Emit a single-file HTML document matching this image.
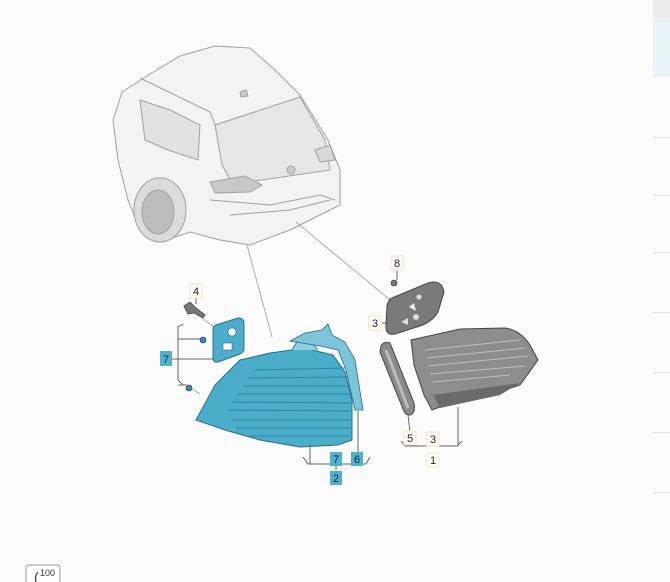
<!DOCTYPE html>
<html><head><style>
html,body{margin:0;padding:0;background:#fcfcfc;}
svg{display:block;font-family:"Liberation Sans",sans-serif;}
</style></head><body>
<svg width="670" height="582" viewBox="0 0 670 582" xmlns="http://www.w3.org/2000/svg">
<rect width="670" height="582" fill="#fcfcfc"/>
<rect x="653" y="0" width="17" height="18" fill="#ebebeb"/>
<rect x="653" y="18" width="17" height="59" fill="#e8f4f8"/>
<g stroke="#e3e3e3" stroke-width="1">
<line x1="653" y1="137.5" x2="670" y2="137.5"/><line x1="653" y1="195.5" x2="670" y2="195.5"/>
<line x1="653" y1="252.5" x2="670" y2="252.5"/><line x1="653" y1="312.5" x2="670" y2="312.5"/>
<line x1="653" y1="372.5" x2="670" y2="372.5"/><line x1="653" y1="432.5" x2="670" y2="432.5"/>
<line x1="653" y1="492.5" x2="670" y2="492.5"/>
</g>
<!-- car -->
<g stroke="#a0a0a0" stroke-width="1" fill="#f3f3f3">
<path d="M122,92 L150,74 L180,56 L215,46 L250,48 L275,70 L300,95 L328,140 L340,170 L340,205 L320,215 L290,230 L250,245 L220,240 L190,232 L160,242 L140,230 L128,200 L118,160 L113,120 Z"/>
<path d="M215,125 L300,97 L325,140 L330,170 L262,180 L232,183 L222,165 Z" fill="#e6e6e6"/>
<path d="M140,100 L170,110 L200,125 L198,160 L168,150 L145,140 Z" fill="#e2e2e2"/>
<path d="M210,182 L245,176 L262,185 L250,192 L215,193 Z" fill="#c8c8c8"/>
<path d="M315,150 L330,145 L335,160 L320,162 Z" fill="#d8d8d8"/>
<path d="M210,200 L270,205 L320,195 L335,200" fill="none"/>
<path d="M230,215 L290,210 L330,200" fill="none"/>
<path d="M140,78 L210,112 L215,125" fill="none"/>
<ellipse cx="160" cy="210" rx="26" ry="32" fill="#dcdcdc"/>
<ellipse cx="158" cy="212" rx="16" ry="22" fill="#bdbdbd"/>
<circle cx="291" cy="170" r="4" fill="#ccc"/>
<path d="M240,92 L246,90 L248,96 L241,97 Z" fill="#ccc"/>
</g>
<g stroke="#aaa" stroke-width="1" fill="none">
<line x1="247" y1="245" x2="272" y2="337"/>
<line x1="296" y1="222" x2="390" y2="300"/>
<line x1="203" y1="319" x2="213" y2="326"/>
<line x1="186" y1="384" x2="200" y2="394"/>
</g>
<path d="M184,306 L190,302 L196,308 L205,315 L203,318 L194,313 L188,314 Z" fill="#777" stroke="#444" stroke-width="0.8"/>
<path d="M216,325 L238,318 Q244,318 244,324 L244,348 Q244,352 240,354 L218,362 Q213,363 213,358 L213,330 Q213,326 216,325 Z" fill="#4daccb" stroke="#2a6f85" stroke-width="1"/>
<circle cx="232" cy="332" r="4" fill="#fff" stroke="#2a6f85" stroke-width="0.6"/>
<rect x="223" y="343" width="9" height="7" fill="#fff" stroke="#2a6f85" stroke-width="0.6"/>
<circle cx="203" cy="340" r="3" fill="#3c8aa6" stroke="#235" stroke-width="0.6"/>
<circle cx="189" cy="388" r="3" fill="#3c8aa6" stroke="#235" stroke-width="0.6"/>
<path d="M196,420 L215,385 L240,360 L270,353 L292,350 L300,343 L312,350 L333,355 L345,372 L352,400 L352,440 L338,445 L300,447 L260,440 L225,430 Z" fill="#4aadca" stroke="#2a6f85" stroke-width="1"/>
<path d="M292,350 L298,340 L312,343 L318,350" fill="#8fd0e3" stroke="#2a6f85" stroke-width="0.8"/>
<g stroke="#2a7690" stroke-width="1" opacity="0.75">
<line x1="255" y1="370" x2="345" y2="368"/><line x1="248" y1="378" x2="348" y2="377"/>
<line x1="243" y1="386" x2="350" y2="386"/><line x1="238" y1="394" x2="351" y2="394"/>
<line x1="232" y1="402" x2="351" y2="403"/><line x1="228" y1="410" x2="351" y2="411"/>
<line x1="232" y1="420" x2="352" y2="420"/><line x1="236" y1="428" x2="352" y2="428"/>
<line x1="250" y1="436" x2="350" y2="436"/>
</g>
<path d="M290,341 L305,333 L322,330 L328,324 L332,335 L345,342 L355,360 L363,410 L355,410 L346,370 L338,350 L320,346 Z" fill="#7cc4da" stroke="#2a6f85" stroke-width="0.8"/>
<path d="M392,298 L428,283 Q442,279 444,292 L438,312 Q432,322 420,326 L395,334 Q385,336 386,324 L387,306 Q388,300 392,298 Z" fill="#7a7a7a" stroke="#444" stroke-width="1"/>
<circle cx="419" cy="297" r="2.5" fill="#ddd"/><path d="M409,307 L414,303 L416,311 Z" fill="#eee"/>
<circle cx="416" cy="317" r="3" fill="#ddd"/><path d="M401,322 L408,318 L408,325 Z" fill="#ddd"/>
<circle cx="394" cy="283" r="3" fill="#777" stroke="#333" stroke-width="0.6"/>
<path d="M381,346 Q384,341 390,343 L414,403 Q416,413 410,415 Q405,415 403,409 L380,352 Z" fill="#8a8a8a" stroke="#444" stroke-width="1"/>
<path d="M386,350 L408,408" stroke="#bbb" stroke-width="3"/>
<path d="M411,340 L460,329 L505,328 Q520,330 530,345 L538,360 L520,385 L490,395 L445,405 L432,410 L424,395 L414,365 Z" fill="#8d8d8d" stroke="#444" stroke-width="1"/>
<g stroke="#c0c0c0" stroke-width="1">
<line x1="425" y1="350" x2="520" y2="340"/><line x1="427" y1="358" x2="525" y2="348"/>
<line x1="428" y1="366" x2="528" y2="356"/><line x1="430" y1="374" x2="525" y2="366"/>
<line x1="432" y1="382" x2="510" y2="375"/>
</g>
<path d="M433,395 L520,383 L500,395 L440,408 Z" fill="#6a6a6a"/>
<g stroke="#666" stroke-width="1" fill="none">
<line x1="196" y1="297" x2="196" y2="304"/>
<path d="M183,324 L178,327 L178,380 L183,385"/>
<line x1="178" y1="339" x2="200" y2="339"/>
<line x1="178" y1="359" x2="213" y2="359"/>
<line x1="178" y1="385" x2="186" y2="385"/>
<line x1="172" y1="359" x2="178" y2="359"/>
<path d="M303,457 L308,464 L366,464 L370,457"/>
<line x1="310" y1="445" x2="310" y2="464"/>
<line x1="358" y1="411" x2="358" y2="452"/>
<path d="M336,466 L336,470"/>
<path d="M401,441 L405,446 L457,446 L462,441"/>
<line x1="458" y1="407" x2="458" y2="446"/>
<line x1="408" y1="415" x2="410" y2="432"/>
<line x1="382" y1="323" x2="388" y2="323"/>
<line x1="397" y1="270" x2="397" y2="280"/>
</g>
<g font-size="11" text-anchor="middle" fill="#222">
<rect x="190" y="284" width="12" height="14" fill="#fff" stroke="#efe6b8"/><text x="196" y="295">4</text>
<rect x="391" y="256" width="12" height="14" fill="#fff" stroke="#efe6b8"/><text x="397" y="267">8</text>
<rect x="369" y="316" width="12" height="14" fill="#fff" stroke="#efe6b8"/><text x="375" y="327">3</text>
<rect x="404" y="431" width="12" height="14" fill="#fff" stroke="#efe6b8"/><text x="410" y="442">5</text>
<rect x="427" y="432" width="12" height="14" fill="#fff" stroke="#efe6b8"/><text x="433" y="443">3</text>
<rect x="427" y="453" width="12" height="14" fill="#fff" stroke="#efe6b8"/><text x="433" y="464">1</text>
<rect x="160" y="351" width="12" height="15" fill="#4fb3cf"/><text x="166" y="363">7</text>
<rect x="330" y="452" width="12" height="14" fill="#4fb3cf"/><text x="336" y="463">7</text>
<rect x="351" y="452" width="12" height="14" fill="#4fb3cf"/><text x="357" y="463">6</text>
<rect x="330" y="471" width="12" height="14" fill="#4fb3cf"/><text x="336" y="482">2</text>
</g>
<rect x="26" y="565" width="34" height="22" rx="3" fill="#fff" stroke="#999"/>
<text x="34" y="582" font-size="14" fill="#333">(</text>
<text x="40" y="576" font-size="9" fill="#333">100</text>
</svg>
</body></html>
